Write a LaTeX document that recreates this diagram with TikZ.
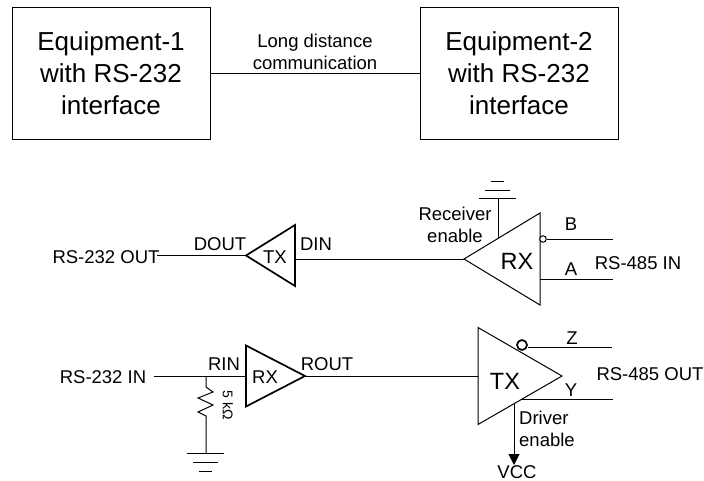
\documentclass[tikz,border=0pt]{standalone}
\usepackage{fontspec}
\setmainfont{Liberation Sans}
\usetikzlibrary{positioning, shapes.geometric, arrows.meta}

\begin{document}
\begin{tikzpicture}[
    x=1pt, y=-1pt,
    equip/.style={rectangle, draw, minimum width=198pt, minimum height=132pt, align=center, font=\fontsize{26}{32}\selectfont},
    lbl/.style={inner sep=0pt, align=center, font=\fontsize{18.5}{22}\selectfont},
    big/.style={inner sep=0pt, font=\fontsize{23.5}{28}\selectfont},
    amp/.style={isosceles triangle, isosceles triangle stretches, draw, inner sep=0pt, outer sep=0pt, anchor=apex},
    thin amp/.style={amp, line width=1pt},
    thick amp/.style={amp, line width=1.7pt},
    wire/.style={line width=1pt},
    bubble/.style={circle, draw, inner sep=0pt, fill=white}
]
\useasboundingbox (0,0) rectangle (704,481);

% top blocks
\node[equip] (eqa) at (111,73) {Equipment-1\\with RS-232\\interface};
\node[equip] (eqb) at (519,73) {Equipment-2\\with RS-232\\interface};
\draw[wire] (eqa.east |- 0,74) -- (eqb.west |- 0,74);
\node[lbl] (link) at (315,52) {Long distance\\communication};

% receive path
\node[thick amp, minimum width=61pt, minimum height=49pt, shape border rotate=180] (txd) at (246,255.5) {};
\node[thin amp, minimum width=92pt, minimum height=76pt, shape border rotate=180] (rxd) at (464,259) {};
\node[lbl] (txdt) at (275,257) {TX};
\node[big] (rxdt) at (517,261) {RX};
\node[lbl] (rsout) at (106,257) {RS-232 OUT};
\node[lbl] (dout) at (220,244) {DOUT};
\node[lbl] (din) at (316,244) {DIN};
\node[lbl] (recv) at (455,225) {Receiver\\enable};
\node[lbl] (bl) at (571,224) {B};
\node[lbl] (al) at (571,269) {A};
\node[lbl] (rsin) at (638,263) {RS-485 IN};
\node[bubble, minimum size=6.5pt, line width=1pt] (binv) at (543,239) {};

\coordinate (outend) at (157,255.5);
\coordinate (bend) at (613,239);
\coordinate (aend) at (613,279);
\coordinate (aorg) at (540,279);
\coordinate (dinorg) at (295,259);
\coordinate (gnda) at (498,199);
\coordinate (gndaorg) at (498,238);
\draw[wire] (outend) -- (txd.apex);
\draw[wire] (dinorg) -- (rxd.apex);
\draw[wire] (binv) -- (bend);
\draw[wire] (aorg) -- (aend);
\draw[wire] (gndaorg) -- (gnda);
\draw[wire] (479,199) -- (516,199);
\draw[wire] (485,191) -- (510,191);
\draw[wire] (491,182) -- (504,182);

% drive path
\node[thick amp, minimum width=61pt, minimum height=59pt] (rxr) at (305,376) {};
\node[thin amp, minimum width=97pt, minimum height=84pt] (txr) at (562,376) {};
\node[lbl] (rxrt) at (265,377) {RX};
\node[big] (txrt) at (505,381) {TX};
\node[lbl] (rsinl) at (103,377) {RS-232 IN};
\node[lbl] (rin) at (224,364) {RIN};
\node[lbl] (rout) at (327,364) {ROUT};
\node[lbl] (zl) at (572,338) {Z};
\node[lbl] (yl) at (571,390) {Y};
\node[lbl] (rsoutb) at (650,374) {RS-485 OUT};
\node[lbl, anchor=west, align=left] (drv) at (519,429) {Driver\\enable};
\node[lbl] (vcc) at (517,472) {VCC};
\node[inner sep=0pt, rotate=-90, font=\fontsize{14}{16}\selectfont] (res) at (228,405) {5 kΩ};
\node[bubble, minimum size=10pt, line width=1.7pt] (zinv) at (522,345) {};

\coordinate (inend) at (154,376);
\coordinate (junc) at (206,376);
\coordinate (zend) at (612,347);
\coordinate (yend) at (613,399);
\coordinate (yorg) at (522,399);
\coordinate (drvorg) at (514,403);
\coordinate (drvend) at (514,465);
\coordinate (gndb) at (206,453);
\draw[wire] (inend) -- (rxr.lower side);
\draw[wire] (rxr.apex) -- (txr.lower side);
\draw[wire] (zinv.east |- zend) -- (zend);
\draw[wire] (yorg) -- (yend);
\draw[wire, -{Triangle[length=11pt, width=11pt]}] (drvorg) -- (drvend);
\draw[wire] (junc) -- ++(0,11) -- ++(7,5) -- ++(-15,6) -- ++(15,7) -- ++(-15,7) -- ++(8,4) -- (gndb);
\draw[wire] (187,453) -- (224,453);
\draw[wire] (193,462) -- (218,462);
\draw[wire] (199,471) -- (212,471);

\end{tikzpicture}
\end{document}
